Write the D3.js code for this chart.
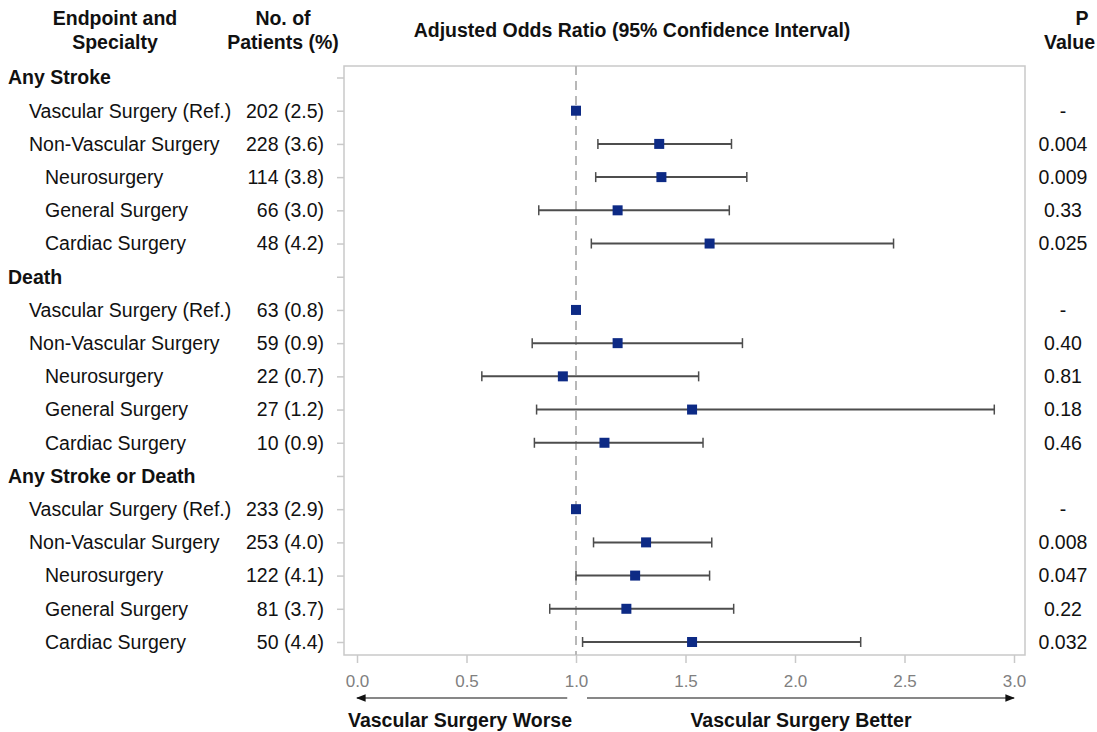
<!DOCTYPE html>
<html>
<head>
<meta charset="utf-8">
<script src="https://d3js.org/d3.v7.min.js"></script>
<style>
  body { margin: 0; background: #fff; }
  text { font-family: "Liberation Sans", Arial, Helvetica, sans-serif; fill: #111; }
</style>
</head>
<body>
<svg width="1097" height="732"></svg>
<script>
// row labels (headers have level 0)
const labels = ['Any Stroke', 'Vascular Surgery (Ref.)', 'Non-Vascular Surgery', 'Neurosurgery', 'General Surgery', 'Cardiac Surgery',
  'Death', 'Vascular Surgery (Ref.)', 'Non-Vascular Surgery', 'Neurosurgery', 'General Surgery', 'Cardiac Surgery',
  'Any Stroke or Death', 'Vascular Surgery (Ref.)', 'Non-Vascular Surgery', 'Neurosurgery', 'General Surgery', 'Cardiac Surgery'];
const levels = [0,1,1,2,2,2, 0,1,1,2,2,2, 0,1,1,2,2,2];
const patients = ['', '202 (2.5)', '228 (3.6)', '114 (3.8)', '66 (3.0)', '48 (4.2)',
  '', '63 (0.8)', '59 (0.9)', '22 (0.7)', '27 (1.2)', '10 (0.9)',
  '', '233 (2.9)', '253 (4.0)', '122 (4.1)', '81 (3.7)', '50 (4.4)'];
const oddsRatio = [null, 1.0, 1.38, 1.39, 1.19, 1.61,
  null, 1.0, 1.19, 0.94, 1.53, 1.13,
  null, 1.0, 1.32, 1.27, 1.23, 1.53];
const ciLow = [null, null, 1.10, 1.09, 0.83, 1.07,
  null, null, 0.80, 0.57, 0.82, 0.81,
  null, null, 1.08, 1.00, 0.88, 1.03];
const ciHigh = [null, null, 1.71, 1.78, 1.70, 2.45,
  null, null, 1.76, 1.56, 2.91, 1.58,
  null, null, 1.62, 1.61, 1.72, 2.30];
const pValues = ['', '-', '0.004', '0.009', '0.33', '0.025',
  '', '-', '0.40', '0.81', '0.18', '0.46',
  '', '-', '0.008', '0.047', '0.22', '0.032'];
const xTicks = [0, 0.5, 1.0, 1.5, 2.0, 2.5, 3.0];

const svg = d3.select('svg');
const frame = {left: 344, right: 1025, top: 66, bottom: 655};

const x = d3.scaleLinear().domain([0, 3]).range([357, 1014]);
const y = d3.scalePoint().domain(d3.range(labels.length)).range([77.5, 642]);

// plot frame
svg.append('rect')
  .attr('x', frame.left).attr('y', frame.top)
  .attr('width', frame.right - frame.left).attr('height', frame.bottom - frame.top)
  .style('fill', 'none').style('stroke', '#c9c9c9').style('stroke-width', 1.5);

// x axis
const xAxis = svg.append('g')
  .attr('transform', 'translate(0,' + frame.bottom + ')')
  .call(d3.axisBottom(x).tickValues(xTicks).tickFormat(d3.format('.1f')).tickSize(8).tickPadding(12));
xAxis.select('.domain').remove();
xAxis.selectAll('line').style('stroke', '#c9c9c9').style('stroke-width', 1.5);
xAxis.selectAll('text').style('fill', '#808080').style('font-size', '17px')
  .style('font-family', '"Liberation Sans", Arial, sans-serif');

// y ticks
const yAxis = svg.append('g')
  .attr('transform', 'translate(' + frame.left + ',0)')
  .call(d3.axisLeft(y).tickSize(7).tickFormat(''));
yAxis.select('.domain').remove();
yAxis.selectAll('line').style('stroke', '#c9c9c9').style('stroke-width', 1.5);

// reference line at 1.0
svg.append('line')
  .attr('x1', x(1)).attr('x2', x(1))
  .attr('y1', frame.top).attr('y2', frame.bottom)
  .style('stroke', '#b8b8b8').style('stroke-width', 2).style('stroke-dasharray', '9,6');

const rows = d3.range(labels.length);

// confidence intervals
const ci = svg.append('g').selectAll('g')
  .data(rows.filter(i => ciLow[i] != null))
  .join('g');
ci.append('line')
  .attr('x1', i => x(ciLow[i])).attr('x2', i => x(ciHigh[i]))
  .attr('y1', i => y(i)).attr('y2', i => y(i))
  .style('stroke', '#4d4d4d').style('stroke-width', 2);
ci.append('line')
  .attr('x1', i => x(ciLow[i])).attr('x2', i => x(ciLow[i]))
  .attr('y1', i => y(i) - 5).attr('y2', i => y(i) + 5)
  .style('stroke', '#4d4d4d').style('stroke-width', 1.5);
ci.append('line')
  .attr('x1', i => x(ciHigh[i])).attr('x2', i => x(ciHigh[i]))
  .attr('y1', i => y(i) - 5).attr('y2', i => y(i) + 5)
  .style('stroke', '#4d4d4d').style('stroke-width', 1.5);

// point estimates
svg.append('g').selectAll('rect')
  .data(rows.filter(i => oddsRatio[i] != null))
  .join('rect')
  .attr('x', i => x(oddsRatio[i]) - 5).attr('y', i => y(i) - 5)
  .attr('width', 10).attr('height', 10)
  .style('fill', '#0d2a85');

// row labels
svg.append('g').selectAll('text')
  .data(rows)
  .join('text')
  .attr('x', i => [8, 29, 45][levels[i]])
  .attr('y', i => y(i))
  .attr('dy', '0.35em')
  .style('font-size', '19.5px')
  .style('font-weight', i => levels[i] === 0 ? 'bold' : 'normal')
  .text(i => labels[i]);

// patients column
svg.append('g').selectAll('text')
  .data(rows)
  .join('text')
  .attr('x', 324).attr('y', i => y(i)).attr('dy', '0.35em')
  .style('text-anchor', 'end').style('font-size', '19.5px')
  .text(i => patients[i]);

// p values
svg.append('g').selectAll('text')
  .data(rows)
  .join('text')
  .attr('x', 1063).attr('y', i => y(i)).attr('dy', '0.35em')
  .style('text-anchor', 'middle').style('font-size', '19.5px')
  .text(i => pValues[i]);

// column headers
function header(txt, xx, yy, anchor) {
  svg.append('text').attr('x', xx).attr('y', yy)
    .style('text-anchor', anchor || 'middle').style('font-size', '19.5px').style('font-weight', 'bold')
    .text(txt);
}
header('Endpoint and', 115, 25);
header('Specialty', 115, 49);
header('No. of', 283, 25);
header('Patients (%)', 283, 49);
header('Adjusted Odds Ratio (95% Confidence Interval)', 632, 37);
header('P', 1082, 25);
header('Value', 1095, 49, 'end');

// direction arrows
svg.append('defs').append('marker')
  .attr('id', 'arr').attr('viewBox', '0 0 10 10').attr('refX', 9).attr('refY', 5)
  .attr('markerWidth', 8).attr('markerHeight', 8).attr('orient', 'auto-start-reverse')
  .append('path').attr('d', 'M0,1 L10,5 L0,9 z').style('fill', '#111');
svg.append('line')
  .attr('x1', x(0.96)).attr('x2', x(0))
  .attr('y1', 698).attr('y2', 698)
  .style('stroke', '#111').style('stroke-width', 1.2).attr('marker-end', 'url(#arr)');
svg.append('line')
  .attr('x1', x(1.05)).attr('x2', x(3))
  .attr('y1', 698).attr('y2', 698)
  .style('stroke', '#111').style('stroke-width', 1.2).attr('marker-end', 'url(#arr)');
header('Vascular Surgery Worse', 460, 727);
header('Vascular Surgery Better', 801, 727);
</script>
</body>
</html>
